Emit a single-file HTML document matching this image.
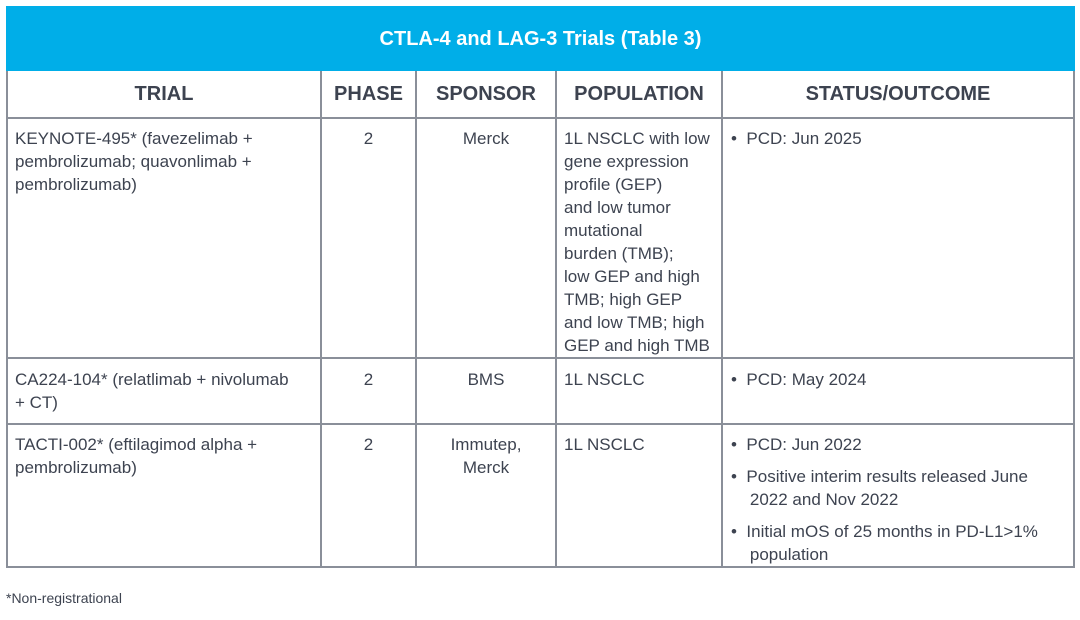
<!DOCTYPE html>
<html><head><style>
body{margin:0;width:1080px;height:620px;background:#fff;font-family:"Liberation Sans",sans-serif;color:#3d4350;position:relative;overflow:hidden}
.t{position:absolute;font-size:17px;line-height:23px;white-space:nowrap}
.h{position:absolute;font-size:20px;font-weight:bold;top:82px;line-height:24px;text-align:center;color:#3d4350}
.hl{position:absolute;background:#8a8f99}
.c{text-align:center}
</style></head><body>
<div style="position:absolute;left:6px;top:6px;width:1069px;height:65px;background:#00aee8"></div>
<div style="position:absolute;left:6px;top:26px;width:1069px;text-align:center;color:#fff;font-weight:bold;font-size:20px;line-height:26px">CTLA-4 and LAG-3 Trials (Table 3)</div>
<!-- borders -->
<div class="hl" style="left:6px;top:71px;width:2px;height:497px"></div>
<div class="hl" style="left:320px;top:71px;width:2px;height:497px"></div>
<div class="hl" style="left:415px;top:71px;width:2px;height:497px"></div>
<div class="hl" style="left:555px;top:71px;width:2px;height:497px"></div>
<div class="hl" style="left:721px;top:71px;width:2px;height:497px"></div>
<div class="hl" style="left:1073px;top:71px;width:2px;height:497px"></div>
<div class="hl" style="left:6px;top:117px;width:1069px;height:2px"></div>
<div class="hl" style="left:6px;top:357px;width:1069px;height:2px"></div>
<div class="hl" style="left:6px;top:423px;width:1069px;height:2px"></div>
<div class="hl" style="left:6px;top:566px;width:1069px;height:2px"></div>
<!-- headers -->
<div class="h" style="left:8px;width:312px">TRIAL</div>
<div class="h" style="left:322px;width:93px">PHASE</div>
<div class="h" style="left:417px;width:138px">SPONSOR</div>
<div class="h" style="left:557px;width:164px">POPULATION</div>
<div class="h" style="left:723px;width:350px">STATUS/OUTCOME</div>
<!-- row1 -->
<div class="t" style="left:15px;top:127px">KEYNOTE-495* (favezelimab +<br>pembrolizumab; quavonlimab +<br>pembrolizumab)</div>
<div class="t c" style="left:322px;width:93px;top:127px">2</div>
<div class="t c" style="left:417px;width:138px;top:127px">Merck</div>
<div class="t" style="left:564px;top:127px">1L NSCLC with low<br>gene expression<br>profile (GEP)<br>and low tumor<br>mutational<br>burden (TMB);<br>low GEP and high<br>TMB; high GEP<br>and low TMB; high<br>GEP and high TMB</div>
<div class="t" style="left:731px;top:127px">•&nbsp;&nbsp;PCD: Jun 2025</div>
<!-- row2 -->
<div class="t" style="left:15px;top:368px">CA224-104* (relatlimab + nivolumab<br>+ CT)</div>
<div class="t c" style="left:322px;width:93px;top:368px">2</div>
<div class="t c" style="left:417px;width:138px;top:368px">BMS</div>
<div class="t" style="left:564px;top:368px">1L NSCLC</div>
<div class="t" style="left:731px;top:368px">•&nbsp;&nbsp;PCD: May 2024</div>
<!-- row3 -->
<div class="t" style="left:15px;top:433px">TACTI-002* (eftilagimod alpha +<br>pembrolizumab)</div>
<div class="t c" style="left:322px;width:93px;top:433px">2</div>
<div class="t c" style="left:417px;width:138px;top:433px">Immutep,<br>Merck</div>
<div class="t" style="left:564px;top:433px">1L NSCLC</div>
<div class="t" style="left:731px;top:433px">•&nbsp;&nbsp;PCD: Jun 2022</div>
<div class="t" style="left:731px;top:465px">•&nbsp;&nbsp;Positive interim results released June<br>&nbsp;&nbsp;&nbsp;&nbsp;2022 and Nov 2022</div>
<div class="t" style="left:731px;top:520px">•&nbsp;&nbsp;Initial mOS of 25 months in PD-L1&gt;1%<br>&nbsp;&nbsp;&nbsp;&nbsp;population</div>
<div class="t" style="left:6px;top:587px;font-size:14px">*Non-registrational</div>
</body></html>
